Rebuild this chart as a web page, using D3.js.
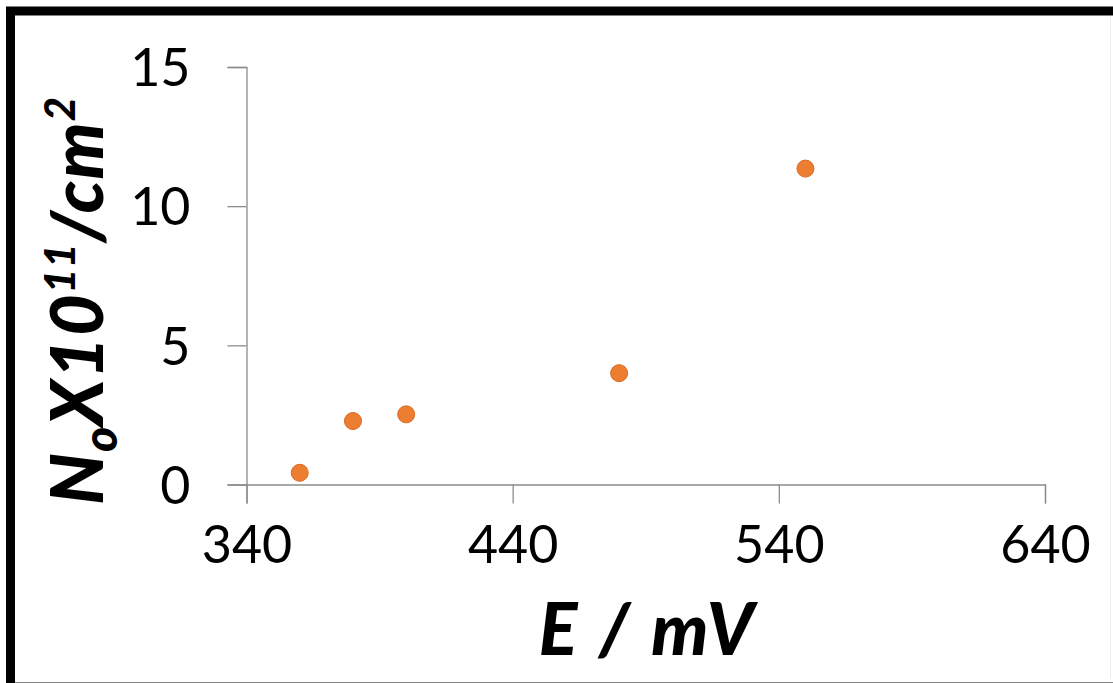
<!DOCTYPE html>
<html><head><meta charset="utf-8">
<script src="https://cdn.jsdelivr.net/npm/d3@7"></script>
<style>
html,body{margin:0;padding:0;background:#fff;}
svg{display:block;}
</style></head>
<body>
<svg id="chart" width="1113" height="683"></svg>
<script>
const potentials = [360, 380, 400, 480, 550];
const densities = [0.42, 2.28, 2.52, 4.0, 11.35];
const xTicks = [340, 440, 540, 640];
const yTicks = [0, 5, 10, 15];

const svg = d3.select("#chart");
const W = 1113, H = 683;
const m = {left: 246.5, right: 1113 - 1045, top: 67, bottom: 683 - 484.5};

// outer frame
svg.append("rect").attr("x", 10.5).attr("y", 11).attr("width", 1200).attr("height", 676)
  .attr("fill", "#fff").attr("stroke", "#000").attr("stroke-width", 9);
svg.append("line").attr("x1", 1110.5).attr("x2", 1110.5).attr("y1", 16).attr("y2", 678)
  .attr("stroke", "#ececec").attr("stroke-width", 1);

const x = d3.scaleLinear().domain([340, 640]).range([m.left, W - m.right]);
const y = d3.scaleLinear().domain([0, 15]).range([H - m.bottom, m.top]);

const font = "Lato, 'Open Sans', sans-serif";
const axisColor = "#8c8c8c";

const gx = svg.append("g").attr("transform", `translate(0,${y(0)})`)
  .call(d3.axisBottom(x).tickValues(xTicks).tickSize(19).tickPadding(42).tickFormat(d3.format("d")));
const gy = svg.append("g").attr("transform", `translate(${x(340)},0)`)
  .call(d3.axisLeft(y).tickValues(yTicks).tickSize(19).tickPadding(37).tickFormat(d3.format("d")));

[gx, gy].forEach(g => {
  g.select(".domain").attr("stroke", axisColor).attr("stroke-width", 1.3);
  g.selectAll(".tick line").attr("stroke", axisColor).attr("stroke-width", 1.3);
  g.selectAll(".tick text").attr("fill", "#000").style("font-family", font).style("font-size", "52px");
});
gy.selectAll(".tick text").attr("dy", "0.36em");
gx.selectAll(".tick text").attr("dy", "0.33em");

// points
svg.append("g").selectAll("circle").data(potentials.map((p, i) => [p, densities[i]]))
  .join("circle")
  .attr("cx", d => x(d[0])).attr("cy", d => y(d[1])).attr("r", 8.5)
  .attr("fill", "#ED7D31").attr("stroke", "#d86a22").attr("stroke-width", 1);

// x title
svg.append("text").attr("x", 648).attr("y", 655).attr("text-anchor", "middle")
  .style("font-family", font).style("font-size", "72px").style("font-weight", "900").style("font-style", "italic")
  .style("letter-spacing", "3px")
  .text("E / mV");

// y title
const yt = svg.append("text").attr("transform", "translate(103,505) rotate(-90)")
  .attr("text-anchor", "start")
  .style("font-family", font).style("font-size", "72px").style("font-weight", "900").style("font-style", "italic")
  .style("letter-spacing", "1px");
yt.append("tspan").text("N");
yt.append("tspan").attr("dy", 14).style("font-size", "48px").text("o");
yt.append("tspan").attr("dy", -14).text("X10");
yt.append("tspan").attr("dy", -28).style("font-size", "42px").text("11");
yt.append("tspan").attr("dy", 28).text("/cm");
yt.append("tspan").attr("dy", -28).style("font-size", "42px").text("2");
</script>
</body></html>
